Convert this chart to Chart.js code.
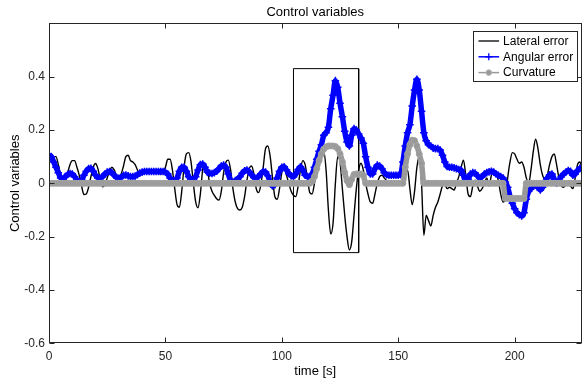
<!DOCTYPE html>
<html>
<head>
<meta charset="utf-8">
<script src="https://cdn.jsdelivr.net/npm/chart.js@4/dist/chart.umd.min.js"></script>
<style>
html,body{margin:0;padding:0;background:#fff;}
#c{display:block;}
</style>
</head>
<body>
<canvas id="c" width="587" height="382"></canvas>
<script>
// ---- data ----
const timeS = [0,1,2,3,4,5,6,7,8,9,10,11,12,13,14,15,16,17,18,19,20,21,22,23,24,25,26,27,28,29,30,31,32,33,34,35,36,37,38,39,40,41,42,43,44,45,46,47,48,49,50,51,52,53,54,55,56,57,58,59,60,61,62,63,64,65,66,67,68,69,70,71,72,73,74,75,76,77,78,79,80,81,82,83,84,85,86,87,88,89,90,91,92,93,94,95,96,97,98,99,100,101,102,103,104,105,106,107,108,109,110,111,112,113,114,115,116,117,118,119,120,121,122,123,124,125,126,127,128,129,130,131,132,133,134,135,136,137,138,139,140,141,142,143,144,145,146,147,148,149,150,151,152,153,154,155,156,157,158,159,160,161,162,163,164,165,166,167,168,169,170,171,172,173,174,175,176,177,178,179,180,181,182,183,184,185,186,187,188,189,190,191,192,193,194,195,196,197,198,199,200,201,202,203,204,205,206,207,208,209,210,211,212,213,214,215,216,217,218,219,220,221,222,223,224,225,226,227,228,229];

const lateralError = [0.10,0.105,0.10,0.10,0.07,0.03,0.005,0.01,0.04,0.07,0.085,0.085,0.06,0.03,-0.01,-0.042,-0.04,-0.015,0.025,0.06,
0.074,0.055,0.015,-0.013,-0.005,0.02,0.045,0.06,0.05,0.03,0.025,0.035,0.065,0.10,0.105,0.085,0.08,0.07,0.05,0.035,
0.035,0.038,0.04,0.04,0.04,0.04,0.04,0.038,0.035,0.04,0.06,0.09,0.09,0.05,-0.02,-0.08,-0.09,-0.03,0.06,0.11,
0.115,0.08,0.0,-0.07,-0.092,-0.04,0.05,0.075,0.05,0.0,-0.03,-0.045,-0.058,-0.063,-0.03,0.04,0.08,0.087,0.05,-0.02,
-0.07,-0.095,-0.10,-0.09,-0.05,0.01,0.055,0.065,0.035,-0.02,-0.035,-0.005,0.06,0.13,0.14,0.10,0.02,-0.05,-0.06,-0.02,
0.04,0.056,0.03,0.0,-0.03,-0.045,-0.05,-0.01,0.05,0.085,0.07,0.02,-0.035,-0.04,0.0,0.06,0.10,0.12,0.12,0.05,
-0.10,-0.19,-0.15,0.0,0.10,0.08,-0.02,-0.12,-0.20,-0.25,-0.22,-0.12,-0.02,0.05,0.075,0.05,0.0,-0.04,-0.07,-0.075,
-0.04,0.0,0.025,0.03,0.02,0.01,0.005,0.0,0.0,0.0,0.0,0.0,0.01,0.04,0.05,-0.02,-0.08,-0.03,0.06,0.10,
0.0,-0.195,-0.12,-0.14,-0.16,-0.12,-0.09,-0.07,-0.04,-0.01,-0.005,-0.02,-0.015,-0.02,-0.025,0.0,0.025,0.06,0.087,0.03,
-0.04,-0.05,-0.01,0.012,-0.01,-0.03,-0.02,0.0,0.02,-0.01,0.03,0.05,0.04,0.01,-0.04,-0.07,-0.06,0.02,0.08,0.115,
0.11,0.09,0.075,0.08,0.06,0.02,0.0,0.05,0.12,0.165,0.13,0.07,0.03,0.015,0.03,0.07,0.10,0.11,0.07,0.02,
-0.01,-0.015,-0.005,0.0,-0.01,-0.02,0.02,0.07,0.08,0.05];

const angularError = [0.105,0.10,0.08,0.06,0.04,0.02,0.015,0.025,0.033,0.037,0.035,0.025,0.012,0.006,0.012,0.03,0.045,0.055,0.056,0.045,
0.03,0.02,0.019,0.025,0.035,0.042,0.044,0.04,0.03,0.022,0.019,0.022,0.03,0.031,0.028,0.025,0.025,0.027,0.032,0.038,
0.042,0.044,0.044,0.044,0.044,0.044,0.044,0.044,0.044,0.044,0.042,0.035,0.02,0.008,0.006,0.02,0.045,0.06,0.06,0.045,
0.025,0.012,0.01,0.025,0.05,0.07,0.072,0.06,0.042,0.038,0.037,0.04,0.045,0.055,0.065,0.068,0.06,0.035,0.01,0.003,
0.01,0.015,0.025,0.038,0.047,0.05,0.044,0.032,0.022,0.019,0.025,0.036,0.044,0.042,0.028,0.005,-0.01,-0.005,0.02,0.045,
0.06,0.062,0.05,0.037,0.028,0.025,0.035,0.052,0.062,0.05,0.03,0.025,0.025,0.035,0.06,0.09,0.12,0.145,0.18,0.19,
0.21,0.28,0.33,0.385,0.36,0.30,0.25,0.195,0.155,0.14,0.18,0.205,0.20,0.185,0.17,0.15,0.10,0.06,0.035,0.035,
0.055,0.068,0.065,0.055,0.04,0.032,0.03,0.03,0.03,0.03,0.03,0.032,0.08,0.14,0.19,0.22,0.29,0.35,0.39,0.35,
0.27,0.19,0.16,0.145,0.14,0.132,0.13,0.13,0.125,0.105,0.08,0.063,0.06,0.06,0.058,0.055,0.052,0.05,0.03,0.005,
0.015,0.035,0.04,0.038,0.028,0.02,0.025,0.035,0.04,0.043,0.045,0.042,0.035,0.03,0.025,0.02,0.005,-0.015,-0.05,-0.075,
-0.095,-0.11,-0.118,-0.122,-0.11,-0.06,-0.03,-0.02,-0.01,-0.006,-0.015,-0.025,-0.015,0.005,0.02,0.032,0.035,0.015,0.0,0.01,
0.025,0.035,0.042,0.048,0.045,0.03,0.035,0.048,0.056,0.05];

const curvature = [0,0,0,0,0,0,0,0,0,0,0,0,0,0,0,0,0,0,0,0,
0,0,0,0,0,0,0,0,0,0,0,0,0,0,0,0,0,0,0,0,
0,0,0,0,0,0,0,0,0,0,0,0,0,0,0,0,0,0,0,0,
0,0,0,0,0,0,0,0,0,0,0,0,0,0,0,0,0,0,0,0,
0,0,0,0,0,0,0,0,0,0,0,0,0,0,0,0,0,0,0,0,
0,0,0,0,0,0,0,0,0,0,0,0,0,0.008,0.025,0.055,0.085,0.11,0.128,0.136,
0.14,0.14,0.14,0.138,0.13,0.11,0.08,0.04,0.01,-0.005,0.015,0.033,0.035,0.033,0.035,0.03,0,0,0,0,
0,0,0,0,0,0,0,0,0,0,0,0,0,0.06,0.11,0.145,0.162,0.16,0.14,0.11,
0.075,0,0,0,0,0,0,0,0,0,0,0,0,0,0,0,0,0,0,0,
0,0,0,0,0,0,0,0,0,0,0,0,0,0,0,0,-0.057,-0.057,-0.057,-0.057,
-0.057,-0.057,-0.057,-0.057,-0.057,0,0,0,0,0,0,0,0,0,0,0,0,0,0,0,
0,0,0,0,0,0,0,0,0,0];

const seriesLabels = ['Lateral error','Angular error','Curvature'];
const zoomBoxX = [105, 133];      // highlighted interval [s]
const zoomBoxY = [-0.26, 0.43];   // highlighted value range
const xTickStep = 50;
const yTickStep = 0.2;
const xRange = [0, 228.7];
const yRange = [-0.6, 0.6];

// ---- chart ----
const FONT = '"Liberation Sans", Arial, Helvetica, sans-serif';
const toXY = (vals) => timeS.map((t, i) => ({x: t, y: vals[i]}));
const boxPts = [
  {x: zoomBoxX[0], y: zoomBoxY[1]}, {x: zoomBoxX[1], y: zoomBoxY[1]},
  {x: zoomBoxX[1], y: zoomBoxY[0]}, {x: zoomBoxX[0], y: zoomBoxY[0]},
  {x: zoomBoxX[0], y: zoomBoxY[1]}
];

const framePlugin = {
  id: 'frame',
  afterDatasetsDraw(chart) {
    const ctx = chart.ctx, a = chart.chartArea;
    const xs = chart.scales.x, ys = chart.scales.y;
    ctx.save();
    ctx.strokeStyle = '#262626';
    ctx.lineWidth = 1;
    const L = Math.round(a.left) + 0.5, R = Math.round(a.right) - 0.5;
    const T = Math.round(a.top) + 0.5, B = Math.round(a.bottom) - 0.5;
    ctx.strokeRect(L, T, R - L, B - T);
    const tl = 5;
    ctx.beginPath();
    xs.ticks.forEach(tk => {
      const p = Math.round(xs.getPixelForValue(tk.value)) + 0.5;
      ctx.moveTo(p, B); ctx.lineTo(p, B - tl);
      ctx.moveTo(p, T); ctx.lineTo(p, T + tl);
    });
    ys.ticks.forEach(tk => {
      const p = Math.round(ys.getPixelForValue(tk.value)) + 0.5;
      ctx.moveTo(L, p); ctx.lineTo(L + tl, p);
      ctx.moveTo(R, p); ctx.lineTo(R - tl, p);
    });
    ctx.stroke();

    // legend
    const bw = 104, bh = 50;
    const bx = Math.round(a.right - 4.3 - bw) + 0.5;
    const by = Math.round(a.top + 7.7) + 0.5;
    ctx.fillStyle = '#fff';
    ctx.fillRect(bx, by, bw, bh);
    ctx.strokeStyle = '#262626';
    ctx.strokeRect(bx, by, bw, bh);
    const ds = chart.data.datasets;
    ctx.font = '12px ' + FONT;
    ctx.textBaseline = 'middle';
    ctx.textAlign = 'left';
    for (let i = 0; i < 3; i++) {
      const d = ds[i];
      const cy = by + 9.5 + i * 15.8;
      const x0 = bx + 5, x1 = bx + 25.6, xm = (x0 + x1) / 2;
      ctx.strokeStyle = d.borderColor;
      ctx.lineWidth = i === 0 ? 1.3 : 1.5;
      ctx.beginPath(); ctx.moveTo(x0, cy); ctx.lineTo(x1, cy); ctx.stroke();
      if (d.pointStyle === 'cross') {
        const r = 3.5;
        ctx.lineWidth = 1.3;
        ctx.beginPath();
        ctx.moveTo(xm - r, cy); ctx.lineTo(xm + r, cy);
        ctx.moveTo(xm, cy - r); ctx.lineTo(xm, cy + r);
        ctx.stroke();
      } else if (d.pointStyle === 'circle') {
        ctx.fillStyle = d.pointBackgroundColor;
        ctx.beginPath(); ctx.arc(xm, cy, 2.8, 0, Math.PI * 2); ctx.fill();
        ctx.strokeStyle = '#b5b5b5'; ctx.lineWidth = 1; ctx.stroke();
      }
      ctx.fillStyle = '#000';
      ctx.fillText(d.label, bx + 29.6, cy + 0.5);
    }
    ctx.restore();
  }
};

new Chart(document.getElementById('c'), {
  type: 'line',
  data: {
    datasets: [
      {label: seriesLabels[0], data: toXY(lateralError), borderColor: '#000000', borderWidth: 1.4,
       pointRadius: 0, cubicInterpolationMode: 'monotone', order: 3},
      {label: seriesLabels[1], data: toXY(angularError), borderColor: '#0000ff', backgroundColor: '#0000ff',
       borderWidth: 5.5, pointStyle: 'cross', pointRadius: 3.8, pointBorderWidth: 1.5,
       pointBorderColor: '#0000ff', cubicInterpolationMode: 'monotone', order: 2},
      {label: seriesLabels[2], data: toXY(curvature), borderColor: '#999999', backgroundColor: '#999999',
       borderWidth: 5.5, pointStyle: 'circle', pointRadius: 3, pointBorderWidth: 1,
       pointBackgroundColor: '#999999', pointBorderColor: '#a3a3a3', cubicInterpolationMode: 'monotone', order: 1},
      {label: 'zoom box', data: boxPts, borderColor: '#000000', borderWidth: 1, pointRadius: 0,
       tension: 0, order: 4}
    ]
  },
  options: {
    responsive: false,
    animation: false,
    events: [],
    layout: {padding: {left: 0, right: 1, top: 0, bottom: 0}},
    plugins: {
      legend: {display: false},
      tooltip: {enabled: false},
      title: {display: true, text: 'Control variables', fullSize: false, color: '#000',
              font: {family: FONT, size: 13, weight: 'normal'}, padding: {top: 4.7, bottom: 3}}
    },
    scales: {
      x: {
        type: 'linear', position: 'bottom', min: xRange[0], max: xRange[1],
        grid: {display: false, drawTicks: false},
        border: {display: false},
        ticks: {stepSize: xTickStep, includeBounds: false, autoSkip: false, maxRotation: 0, padding: 6,
                color: '#262626', font: {family: FONT, size: 12},
                callback: v => (v % xTickStep === 0 ? String(v) : '')},
        title: {display: true, text: 'time [s]', color: '#000', font: {family: FONT, size: 13},
                padding: {top: 0, bottom: 2.7}},
        afterFit: s => { s.height = 38.7; }
      },
      y: {
        type: 'linear', min: yRange[0], max: yRange[1],
        grid: {display: false, drawTicks: false},
        border: {display: false},
        ticks: {stepSize: yTickStep, padding: 4, color: '#262626', font: {family: FONT, size: 12},
                callback: v => (Math.abs(v - yRange[1]) < 1e-9 ? '' : String(Math.round(v * 10) / 10))},
        title: {display: true, text: 'Control variables', color: '#000', font: {family: FONT, size: 13},
                padding: {top: 7.8, bottom: 0}},
        afterFit: s => { s.width = 49; }
      }
    }
  },
  plugins: [framePlugin]
});
</script>
</body>
</html>
